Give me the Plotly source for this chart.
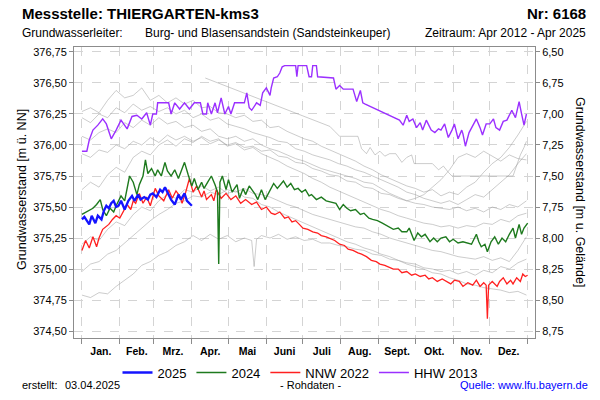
import plotly.graph_objs as go

# day of year (0 = 1 Jan) and groundwater level [m ü. NN]
MONTH_STARTS = [0, 31, 59, 90, 120, 151, 181, 212, 243, 273, 304, 334, 365]
MONTH_MIDS = [15.5, 45, 74.5, 105, 135.5, 166, 196.5, 227.5, 258, 288.5, 319, 349.5]
MONTH_LABELS = ['Jan.', 'Feb.', 'Mrz.', 'Apr.', 'Mai', 'Juni', 'Juli', 'Aug.',
                'Sept.', 'Okt.', 'Nov.', 'Dez.']

LEFT_TICKS = [374.50, 374.75, 375.00, 375.25, 375.50, 375.75, 376.00, 376.25, 376.50, 376.75]
RIGHT_TICKS = [6.50, 6.75, 7.00, 7.25, 7.50, 7.75, 8.00, 8.25, 8.50, 8.75]
GROUND_LEVEL = 383.25

# weekly samples for the grey years
GRAY_DAYS = [0, 7, 14, 21, 28, 35, 42, 49, 56, 63, 70, 77, 84, 91, 98, 105, 112, 119,
             126, 133, 140, 147, 154, 161, 168, 175, 182, 189, 196, 203, 210, 217, 224,
             231, 238, 245, 252, 259, 266, 273, 280, 287, 294, 301, 308, 315, 322, 329,
             336, 343, 350, 357, 364]

gray_a = [376.27, 376.30, 376.26, 376.36, 376.44, 376.38, 376.40, 376.46, 376.36, 376.40,
          376.34, 376.38, 376.33, 376.36, 376.30, 376.31, 376.26, 376.25, 376.22, 376.24,
          376.19, 376.20, 376.14, 376.15, 376.11, 376.08, 376.05, 376.03, 375.99, 375.96,
          375.93, 375.90, 375.87, 375.83, 375.80, 375.76, 375.73, 375.70, 375.67, 375.65,
          375.62, 375.64, 375.59, 375.62, 375.60, 375.66, 375.70, 375.78, 375.85, 375.90,
          375.98, 376.08, 376.19]
gray_b = [376.22, 376.18, 376.25, 376.22, 376.30, 376.26, 376.33, 376.28, 376.31, 376.27,
          376.30, 376.25, 376.28, 376.22, 376.25, 376.20, 376.22, 376.17, 376.15, 376.13,
          376.10, 376.08, 376.06, 376.03, 376.02, 375.97, 375.95, 375.92, 375.90, 375.88,
          375.85, 375.83, 375.80, 375.78, 375.75, 375.72, 375.69, 375.66, 375.62, 375.60,
          375.57, 375.55, 375.53, 375.55, 375.52, 375.56, 375.60, 375.58, 375.64, 375.70,
          375.76, 375.85, 375.93]
gray_c = [376.07, 376.04, 376.10, 376.13, 376.10, 376.18, 376.14, 376.20, 376.16, 376.22,
          376.17, 376.19, 376.14, 376.16, 376.11, 376.13, 376.07, 376.05, 376.07, 376.03,
          376.05, 376.00, 375.97, 375.95, 375.92, 375.89, 375.87, 375.84, 375.81, 375.79,
          375.77, 375.75, 375.73, 375.70, 375.69, 375.65, 375.61, 375.58, 375.55, 375.57,
          375.60, 375.66, 375.72, 375.80, 375.90, 375.93, 375.90, 375.95, 375.91, 375.87,
          375.92, 375.89, 375.88]
gray_d = [375.93, 375.90, 375.96, 375.94, 376.00, 375.97, 376.03, 376.00, 376.06, 376.02,
          376.08, 376.04, 376.07, 376.03, 376.06, 376.01, 376.04, 376.00, 376.02, 375.98,
          375.99, 375.95, 375.96, 375.91, 375.90, 375.86, 375.85, 375.81, 375.79, 375.76,
          375.75, 375.71, 375.70, 375.66, 375.65, 375.61, 375.60, 375.57, 375.55, 375.53,
          375.52, 375.50, 375.49, 375.48, 375.50, 375.47, 375.49, 375.46, 375.50, 375.48,
          375.52, 375.50, 375.55]
gray_e = [375.64, 375.70, 375.66, 375.76, 375.82, 375.78, 375.90, 375.95, 375.92, 376.00,
          376.04, 375.99, 376.05, 376.02, 376.07, 376.03, 376.05, 375.99, 376.01, 375.96,
          375.98, 375.93, 375.90, 375.87, 375.83, 375.80, 375.77, 375.73, 375.70, 375.66,
          375.63, 375.60, 375.57, 375.54, 375.51, 375.48, 375.46, 375.43, 375.41, 375.39,
          375.37, 375.36, 375.34, 375.35, 375.33, 375.35, 375.34, 375.37, 375.36, 375.40,
          375.38, 375.43, 375.45]
gray_f = [374.98, 375.04, 375.06, 375.12, 375.15, 375.21, 375.27, 375.33, 375.39, 375.44,
          375.48, 375.53, 375.55, 375.59, 375.58, 375.62, 375.60, 375.64, 375.62, 375.65,
          375.61, 375.60, 375.58, 375.55, 375.52, 375.50, 375.47, 375.44, 375.42, 375.40,
          375.38, 375.36, 375.34, 375.33, 375.30, 375.28, 375.25, 375.23, 375.21, 375.19,
          375.17, 375.15, 375.14, 375.12, 375.10, 375.09, 375.08, 375.10, 375.07, 375.09,
          375.06, 375.15, 375.26]
gray_g = [375.20, 375.26, 375.23, 375.32, 375.38, 375.35, 375.44, 375.50, 375.47, 375.55,
          375.60, 375.57, 375.64, 375.62, 375.67, 375.63, 375.66, 375.61, 375.63, 375.58,
          375.57, 375.52, 375.50, 375.46, 375.43, 375.40, 375.37, 375.34, 375.31, 375.28,
          375.25, 375.22, 375.20, 375.17, 375.15, 375.12, 375.10, 375.07, 375.05, 375.04,
          375.01, 375.00, 374.98, 374.99, 374.96, 374.98, 374.95, 374.99, 374.97, 375.02,
          375.00, 375.05, 375.08]

gray_h_days = [0, 7, 14, 21, 28, 35, 42, 49, 56, 63, 70, 77, 84, 91, 98, 105, 112, 119,
               126, 133, 139, 141, 143, 147, 154, 161, 168, 175, 182, 189, 196, 203, 210,
               217, 224, 231, 238, 245, 252, 259, 266, 273, 280, 287, 294, 301, 308, 315,
               322, 329, 336, 343, 350, 357, 364]
gray_h = [374.79, 374.77, 374.81, 374.80, 374.86, 374.91, 374.96, 375.03, 375.06, 375.11,
          375.14, 375.19, 375.22, 375.27, 375.23, 375.28, 375.24, 375.27, 375.22, 375.25,
          375.23, 375.02, 375.24, 375.27, 375.25, 375.28, 375.24, 375.26, 375.23, 375.24,
          375.21, 375.21, 375.19, 375.18, 375.16, 375.15, 375.12, 375.11, 375.08, 375.07,
          375.04, 375.02, 375.00, 374.97, 374.96, 374.93, 374.91, 374.88, 374.87, 374.85,
          374.84, 374.83, 374.81, 374.82, 374.79]

y2012_days = [101, 203, 207, 211, 226, 229, 233, 236, 240, 244, 248, 252, 257, 262, 266,
              270, 272, 287, 292, 296, 300, 303, 353, 356, 359, 362, 364]
y2012 = [376.54, 376.15, 376.11, 376.07, 376.07, 375.97, 375.93, 375.98, 375.92, 375.95,
         375.91, 375.93, 375.93, 375.86, 375.90, 375.92, 375.85, 375.85, 375.80, 375.83,
         375.78, 375.75, 375.75, 375.83, 375.92, 375.98, 376.03]

hhw2013_days = [0, 4, 6, 9, 13, 17, 20, 24, 28, 32, 37, 41, 45, 49, 53, 56, 58, 61, 62, 71,
                73, 76, 80, 84, 88, 92, 97, 99, 102, 103, 106, 109, 111, 114, 117, 120, 122,
                125, 133, 135, 137, 139, 143, 146, 148, 151, 154, 155, 157, 160, 162, 164,
                166, 173, 175, 176, 177, 184, 186, 188, 189, 192, 193, 206, 208, 211, 214,
                222, 225, 228, 230, 232, 260, 263, 266, 268, 271, 274, 277, 279, 282, 286,
                289, 292, 294, 297, 300, 303, 305, 308, 311, 312, 314, 317, 320, 323, 326,
                328, 331, 334, 337, 339, 342, 345, 348, 352, 355, 358, 360, 362, 364]
hhw2013 = [375.95, 375.95, 376.04, 376.12, 376.16, 376.21, 376.17, 376.05, 376.12, 376.20,
           376.13, 376.23, 376.24, 376.21, 376.26, 376.16, 376.25, 376.25, 376.34, 376.34,
           376.25, 376.34, 376.29, 376.34, 376.29, 376.34, 376.34, 376.25, 376.25, 376.34,
           376.25, 376.34, 376.26, 376.38, 376.25, 376.31, 376.25, 376.34, 376.34, 376.42,
           376.30, 376.28, 376.34, 376.32, 376.42, 376.46, 376.40, 376.46, 376.54, 376.55,
           376.58, 376.63, 376.64, 376.64, 376.64, 376.55, 376.64, 376.64, 376.55, 376.55,
           376.64, 376.64, 376.55, 376.54, 376.45, 376.48, 376.45, 376.45, 376.35, 376.44,
           376.34, 376.33, 376.20, 376.16, 376.24, 376.19, 376.21, 376.14, 376.18, 376.12,
           376.20, 376.12, 376.10, 376.13, 376.12, 376.17, 376.06, 376.12, 376.17, 376.05,
           376.12, 376.09, 375.99, 376.10, 376.15, 376.21, 376.14, 376.08, 376.17, 376.17,
           376.21, 376.14, 376.12, 376.19, 376.20, 376.28, 376.22, 376.35, 376.25, 376.16,
           376.25]

nnw2022_days = [0, 3, 6, 9, 12, 14, 17, 22, 25, 28, 31, 34, 37, 40, 42, 44, 47, 50, 53, 56,
                60, 63, 67, 71, 74, 77, 80, 82, 85, 88, 91, 94, 98, 100, 102, 106, 108, 110,
                114, 118, 122, 126, 130, 134, 139, 143, 147, 151, 155, 158, 162, 166, 169,
                172, 175, 178, 181, 185, 189, 193, 196, 200, 204, 207, 211, 215, 218, 222,
                226, 229, 233, 237, 241, 244, 248, 252, 255, 259, 262, 266, 270, 273, 277,
                281, 284, 287, 291, 295, 298, 302, 305, 309, 312, 316, 320, 323, 326, 329,
                331, 332, 333, 336, 340, 342, 345, 348, 351, 353, 356, 359, 361, 363, 365]
nnw2022 = [375.15, 375.23, 375.17, 375.26, 375.18, 375.25, 375.32, 375.36, 375.40, 375.43,
           375.41, 375.47, 375.52, 375.48, 375.55, 375.53, 375.61, 375.53, 375.58, 375.51,
           375.65, 375.59, 375.55, 375.64, 375.57, 375.63, 375.59, 375.53, 375.62, 375.73,
           375.62, 375.67, 375.58, 375.63, 375.56, 375.60, 375.55, 375.64, 375.57, 375.61,
           375.56, 375.59, 375.53, 375.56, 375.52, 375.54, 375.48, 375.50, 375.45, 375.44,
           375.46, 375.41, 375.42, 375.38, 375.39, 375.36, 375.33, 375.32, 375.30, 375.29,
           375.27, 375.26, 375.24, 375.23, 375.20, 375.19, 375.16, 375.15, 375.13, 375.12,
           375.10, 375.07, 375.06, 375.04, 375.03, 375.01, 375.00, 375.00, 374.97, 374.98,
           374.95, 374.96, 374.94, 374.95, 374.92, 374.93, 374.90, 374.92, 374.90, 374.88,
           374.91, 374.90, 374.86, 374.89, 374.87, 374.91, 374.86, 374.89, 374.87, 374.60,
           374.87, 374.90, 374.86, 374.90, 374.93, 374.88, 374.91, 374.88, 374.93, 374.90,
           374.96, 374.94, 374.95]

y2024_days = [0, 4, 9, 12, 15, 17, 20, 23, 26, 28, 32, 35, 37, 39, 42, 45, 47, 50, 52, 54,
              57, 60, 62, 65, 68, 70, 73, 76, 79, 81, 84, 87, 90, 92, 95, 98, 100, 103, 106,
              109, 111, 112, 113, 115, 118, 120, 123, 127, 129, 132, 134, 137, 142, 144,
              147, 150, 153, 157, 160, 165, 168, 171, 174, 177, 180, 183, 186, 188, 192,
              196, 200, 204, 208, 211, 214, 217, 220, 224, 228, 231, 235, 238, 242, 246,
              250, 255, 259, 262, 266, 268, 272, 275, 278, 281, 285, 288, 291, 294, 298,
              301, 304, 308, 312, 315, 319, 323, 325, 327, 330, 332, 335, 338, 341, 344,
              347, 350, 353, 355, 358, 360, 362, 365]
y2024 = [375.44, 375.46, 375.49, 375.52, 375.56, 375.48, 375.43, 375.49, 375.46, 375.51,
         375.59, 375.55, 375.64, 375.75, 375.70, 375.60, 375.68, 375.75, 375.88, 375.77,
         375.81, 375.75, 375.80, 375.75, 375.86, 375.79, 375.75, 375.80, 375.73, 375.78,
         375.86, 375.76, 375.67, 375.73, 375.64, 375.70, 375.65, 375.70, 375.75, 375.68,
         375.62, 375.04, 375.70, 375.75, 375.64, 375.72, 375.62, 375.68, 375.57, 375.65,
         375.60, 375.67, 375.60, 375.56, 375.64, 375.56, 375.62, 375.69, 375.65, 375.71,
         375.66, 375.69, 375.64, 375.65, 375.62, 375.64, 375.59, 375.60, 375.56, 375.58,
         375.55, 375.54, 375.53, 375.48, 375.52, 375.49, 375.47, 375.48, 375.44, 375.45,
         375.41, 375.40, 375.39, 375.37, 375.35, 375.32, 375.33, 375.30, 375.30, 375.33,
         375.23, 375.29, 375.26, 375.28, 375.22, 375.25, 375.22, 375.25, 375.26, 375.22,
         375.24, 375.21, 375.22, 375.21, 375.20, 375.28, 375.22, 375.18, 375.20, 375.14,
         375.22, 375.26, 375.20, 375.25, 375.22, 375.28, 375.33, 375.25, 375.36, 375.28,
         375.33, 375.37]

y2025_days = [0, 2, 4, 6, 8, 11, 13, 16, 18, 20, 22, 24, 26, 28, 30, 32, 35, 38, 41, 43,
              46, 48, 51, 54, 56, 58, 61, 64, 66, 68, 70, 73, 76, 79, 81, 84, 86, 88, 90]
y2025 = [375.40, 375.42, 375.39, 375.36, 375.43, 375.37, 375.43, 375.40, 375.47, 375.51,
         375.49, 375.53, 375.55, 375.50, 375.51, 375.55, 375.48, 375.55, 375.59, 375.55,
         375.60, 375.56, 375.58, 375.56, 375.60, 375.61, 375.58, 375.64, 375.62, 375.66,
         375.62, 375.56, 375.52, 375.60, 375.56, 375.61, 375.55, 375.53, 375.51]

FONT = 'Liberation Sans, Arial, sans-serif'
W, H = 600, 400
L, R, T, B = 74, 65, 47, 58


def px(x):
    return (x - L) / (W - L - R)


def py(y):
    return (H - B - y) / (H - T - B)


data = []
gray_style = dict(color='rgba(150,150,150,0.55)', width=0.9)
for days, vals in [(GRAY_DAYS, gray_a), (GRAY_DAYS, gray_b), (GRAY_DAYS, gray_c),
                   (GRAY_DAYS, gray_d), (GRAY_DAYS, gray_e), (GRAY_DAYS, gray_f),
                   (GRAY_DAYS, gray_g), (gray_h_days, gray_h), (y2012_days, y2012)]:
    data.append(go.Scatter(x=days, y=vals, mode='lines', line=gray_style,
                           showlegend=False, hoverinfo='skip'))

data.append(go.Scatter(x=hhw2013_days, y=hhw2013, mode='lines', name='HHW 2013',
                       line={'color': '#9b30ff', 'width': 1.4}, legendrank=4))
data.append(go.Scatter(x=nnw2022_days, y=nnw2022, mode='lines', name='NNW 2022',
                       line={'color': '#ff2020', 'width': 1.3}, legendrank=3))
data.append(go.Scatter(x=y2024_days, y=y2024, mode='lines', name='2024',
                       line={'color': '#1e7a1e', 'width': 1.4}, legendrank=2))
data.append(go.Scatter(x=y2025_days, y=y2025, mode='lines', name='2025',
                       line={'color': '#1414ff', 'width': 2.3}, legendrank=1))
# carrier for the depth axis
data.append(go.Scatter(x=[None], y=[None], yaxis='y2', showlegend=False, hoverinfo='skip'))

y_lo, y_hi = 374.444, 376.79
axis_font = dict(family=FONT, size=11, color='black')

layout = go.Layout(
    width=W, height=H, autosize=False,
    margin=dict(l=L, r=R, t=T, b=B),
    paper_bgcolor='white', plot_bgcolor='white',
    separators=',.',
    font=dict(family=FONT, color='black'),
    xaxis=dict(range=[-6.5, 371], tickvals=MONTH_MIDS, ticktext=MONTH_LABELS,
               ticks='outside', ticklen=3, tickcolor='rgba(0,0,0,0)',
               showgrid=False, zeroline=False,
               tickfont=dict(family=FONT, size=10.5, color='black', weight='bold'),
               showline=True, mirror=True, linecolor='#8c8c8c', linewidth=1,
               minor=dict(tickvals=MONTH_STARTS, ticks='outside', ticklen=5,
                          tickcolor='#8c8c8c', showgrid=True, gridcolor='#d4d4d4',
                          griddash='dash', gridwidth=1)),
    yaxis=dict(range=[y_lo, y_hi], tickvals=LEFT_TICKS, tickformat='.2f',
               ticks='outside', ticklen=4, tickcolor='#8c8c8c', tickfont=axis_font,
               showgrid=True, gridcolor='#d4d4d4', griddash='dash', zeroline=False,
               showline=True, mirror=True, linecolor='#8c8c8c', linewidth=1),
    yaxis2=dict(range=[GROUND_LEVEL - y_lo, GROUND_LEVEL - y_hi], overlaying='y',
                side='right', tickvals=RIGHT_TICKS, tickformat='.2f', ticks='outside',
                ticklen=4, tickcolor='#8c8c8c', tickfont=axis_font, showgrid=False,
                zeroline=False),
    legend=dict(orientation='h', x=px(300), xanchor='center', y=py(377),
                yanchor='middle', font=dict(family=FONT, size=13, color='black'),
                itemwidth=30, bgcolor='rgba(0,0,0,0)'),
    showlegend=True,
)

texts = [
    ('Messstelle: THIERGARTEN-kms3', 20, 13, 'left', 15, 'bold', 'black', 0),
    ('Nr: 6168', 588, 13, 'right', 15, 'bold', 'black', 0),
    ('Grundwasserleiter:', 20, 33, 'left', 12, 'normal', 'black', 0),
    ('Burg- und Blasensandstein (Sandsteinkeuper)', 143, 33, 'left', 12, 'normal', 'black', 0),
    ('Zeitraum: Apr 2012 - Apr 2025', 588, 33, 'right', 12, 'normal', 'black', 0),
    ('erstellt:', 20, 390, 'left', 11, 'normal', 'black', 0),
    ('03.04.2025', 63, 390, 'left', 11, 'normal', 'black', 0),
    ('- Rohdaten -', 310, 390, 'center', 11, 'normal', 'black', 0),
    ('Quelle: www.lfu.bayern.de', 590, 390, 'right', 11, 'normal', '#0000ff', 0),
    ('Grundwasserstand [m ü. NN]', 22, 192, 'center', 12.5, 'normal', 'black', -90),
    ('Grundwasserstand [m u. Gelände]', 580, 194, 'center', 12.5, 'normal', 'black', 90),
]
annotations = []
for text, x, y, anchor, size, weight, color, angle in texts:
    annotations.append(dict(text=text, x=px(x), y=py(y), xref='paper', yref='paper',
                            xanchor=anchor, yanchor='middle', showarrow=False,
                            textangle=angle,
                            font=dict(family=FONT, size=size, color=color, weight=weight)))
layout.annotations = annotations

fig = go.Figure(data=data, layout=layout)
# drop the browser's default body margin so the 600x400 figure sits at the origin
fig.write_html("out.html", config={'displayModeBar': False},
               post_script="document.body.style.margin='0';")
